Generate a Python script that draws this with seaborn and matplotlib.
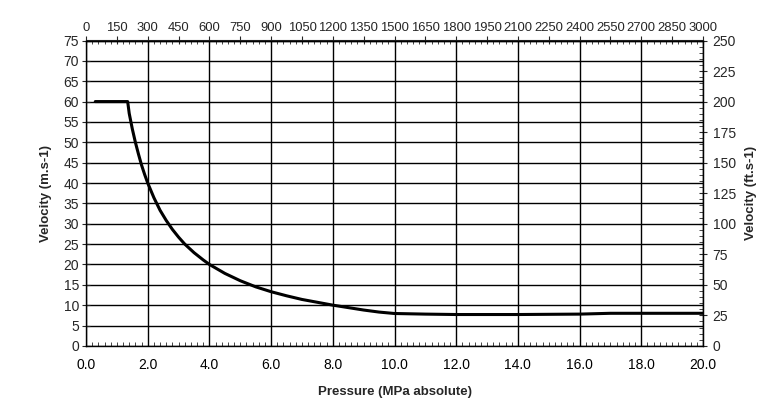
import matplotlib
matplotlib.use("Agg")
import matplotlib.pyplot as plt
import seaborn as sns
import pandas as pd
import numpy as np
from matplotlib.ticker import MultipleLocator, FormatStrFormatter

# Values
pressure_mpa = [0.3, 1.35, 1.4, 1.5, 1.6, 1.7, 1.8, 1.9, 2.0, 2.2, 2.4, 2.6, 2.8, 3.0,
                3.2, 3.5, 3.8, 4.0, 4.5, 5.0, 5.5, 6.0, 6.5, 7.0, 7.5, 8.0, 8.5,
                9.0, 9.5, 10.0, 11.0, 12.0, 14.0, 16.0, 17.0, 20.0]
velocity_ms = [60.0, 60.0, 57.1, 53.3, 50.0, 47.1, 44.4, 42.1, 40.0, 36.4, 33.3, 30.8, 28.6, 26.7,
               25.0, 22.9, 21.1, 20.0, 17.8, 16.0, 14.5, 13.3, 12.3, 11.4, 10.7, 10.0, 9.4,
               8.8, 8.3, 7.95, 7.8, 7.7, 7.7, 7.8, 8.0, 8.0]

df = pd.DataFrame({"pressure": pressure_mpa, "velocity": velocity_ms})

sns.set_style("white")
plt.rcParams['font.family'] = ['Liberation Sans', 'DejaVu Sans']
plt.rcParams['font.size'] = 10

fig = plt.figure(figsize=(7.82, 4.05), dpi=100)
ax = fig.add_axes([0.110, 0.146, 0.789, 0.754])

sns.lineplot(data=df, x="pressure", y="velocity", color="black", linewidth=2.2, ax=ax)

ax.set_xlim(0, 20)
ax.set_ylim(0, 75)
ax.xaxis.set_major_locator(MultipleLocator(2))
ax.xaxis.set_minor_locator(MultipleLocator(0.2))
ax.xaxis.set_major_formatter(FormatStrFormatter('%.1f'))
ax.yaxis.set_major_locator(MultipleLocator(5))
ax.grid(True, which='major', color='black', linewidth=1)
ax.set_axisbelow(True)
for s in ax.spines.values():
    s.set_color('black')
    s.set_linewidth(1)
ax.tick_params(axis='x', which='major', length=0, pad=9, labelsize=10, colors='black')
ax.tick_params(axis='x', which='minor', direction='in', length=3, bottom=True, top=False)
ax.tick_params(axis='y', which='major', direction='inout', length=6, left=True, labelsize=10, pad=2)
ax.set_xlabel("Pressure (MPa absolute)", fontweight='bold', fontsize=9.5, labelpad=10)
ax.set_ylabel("Velocity (m.s-1)", fontweight='bold', fontsize=9.5, labelpad=8)

# top axis (0-3000)
top = ax.secondary_xaxis('top', functions=(lambda x: x * 150, lambda x: x / 150))
top.xaxis.set_major_locator(MultipleLocator(150))
top.xaxis.set_minor_locator(MultipleLocator(30))
top.tick_params(which='major', direction='inout', length=6, labelsize=9.4, pad=2)
top.tick_params(which='minor', direction='in', length=3)

# right axis (0-250)
right = ax.secondary_yaxis('right', functions=(lambda y: y * 10 / 3, lambda y: y * 3 / 10))
right.yaxis.set_major_locator(MultipleLocator(25))
right.yaxis.set_minor_locator(MultipleLocator(5))
right.tick_params(which='major', direction='inout', length=6, labelsize=10, pad=4)
right.tick_params(which='minor', direction='in', length=3)
right.set_ylabel("Velocity (ft.s-1)", fontweight='bold', fontsize=9.5, labelpad=6)

fig.savefig("out.png", dpi=100, facecolor='white')
